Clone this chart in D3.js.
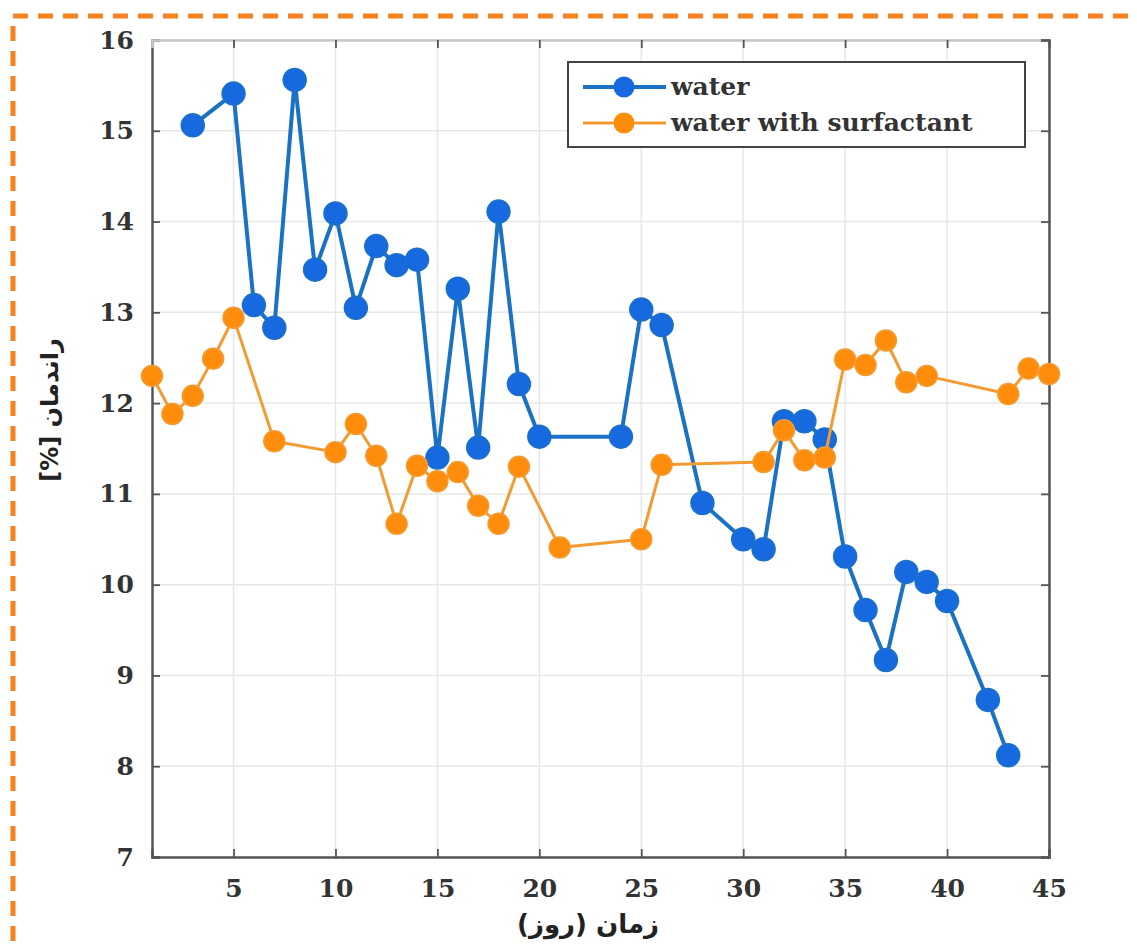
<!DOCTYPE html>
<html><head><meta charset="utf-8">
<script src="https://cdn.jsdelivr.net/npm/d3@7"></script>
<style>html,body{margin:0;padding:0;background:#fff;overflow:hidden}</style>
</head><body>
<svg id="c" width="1137" height="948"></svg>
<script>
const waterDays = [3,5,6,7,8,9,10,11,12,13,14,15,16,17,18,19,20,24,25,26,28,30,31,32,33,34,35,36,37,38,39,40,42,43];
const waterVals = [15.06,15.41,13.08,12.83,15.56,13.47,14.09,13.05,13.73,13.52,13.58,11.40,13.26,11.51,14.11,12.21,11.63,11.63,13.03,12.86,10.90,10.50,10.39,11.80,11.80,11.60,10.31,9.72,9.17,10.14,10.03,9.82,8.73,8.12];
const surfDays = [1,2,3,4,5,7,10,11,12,13,14,15,16,17,18,19,21,25,26,31,32,33,34,35,36,37,38,39,43,44,45];
const surfVals = [12.30,11.88,12.08,12.49,12.94,11.58,11.46,11.77,11.42,10.67,11.31,11.14,11.24,10.87,10.67,11.30,10.41,10.50,11.32,11.35,11.70,11.37,11.40,12.48,12.42,12.69,12.23,12.30,12.10,12.38,12.32];
const xTicks = [5,10,15,20,25,30,35,40,45];
const yTicks = [7,8,9,10,11,12,13,14,15,16];
const seriesNames = ["water","water with surfactant"];
const xLabel = "زمان (روز)";
const yLabel = "راندمان [%]";

const svg = d3.select("#c");
const L = 152, R = 1049, T = 40, B = 857;
const x = d3.scaleLinear().domain([1,45]).range([L,R]);
const y = d3.scaleLinear().domain([7,16]).range([B,T]);

// dashed frame
svg.append("rect").attr("x",13).attr("y",16).attr("width",1300).attr("height",1100)
  .attr("fill","none").attr("stroke","#f5841f").attr("stroke-width",5)
  .attr("stroke-dasharray","15,10");

// grid
const g = svg.append("g");
g.selectAll(".gx").data(xTicks).join("line")
  .attr("x1",d=>x(d)).attr("x2",d=>x(d)).attr("y1",T).attr("y2",B)
  .attr("stroke","#e8e8e8").attr("stroke-width",1.5);
g.selectAll(".gy").data(yTicks).join("line")
  .attr("y1",d=>y(d)).attr("y2",d=>y(d)).attr("x1",L).attr("x2",R)
  .attr("stroke","#e8e8e8").attr("stroke-width",1.5);

// axes
const tickFont = "'DejaVu Serif', serif";
const xAxis = svg.append("g").attr("transform",`translate(0,${B})`)
  .call(d3.axisBottom(x).tickValues(xTicks).tickSize(-8).tickPadding(22).tickFormat(d3.format("d")));
const yAxis = svg.append("g").attr("transform",`translate(${L},0)`)
  .call(d3.axisLeft(y).tickValues(yTicks).tickSize(-8).tickPadding(18).tickFormat(d3.format("d")));
const xTop = svg.append("g").attr("transform",`translate(0,${T})`)
  .call(d3.axisTop(x).tickValues(xTicks).tickSize(-8).tickFormat(""));
const yRight = svg.append("g").attr("transform",`translate(${R},0)`)
  .call(d3.axisRight(y).tickValues(yTicks).tickSize(-8).tickFormat(""));
[xAxis,yAxis,xTop,yRight].forEach(a=>{
  a.select(".domain").attr("stroke","#555").attr("stroke-width",2.5);
  a.selectAll(".tick line").attr("stroke","#555").attr("stroke-width",1.8);
  a.selectAll("text").attr("font-family",tickFont).attr("font-weight","bold")
   .attr("font-size",25).attr("fill","#333");
});
xTop.select(".domain").attr("stroke","#c8c8c8");
xAxis.selectAll(".tick text").attr("dy","0.71em");

// series
const blueLine = "#1b72c4", blueFill = "#1769e0";
const orLine = "#f39b32", orFill = "#ff8c0a";
const line = d3.line().x(d=>x(d[0])).y(d=>y(d[1]));
const wData = waterDays.map((d,i)=>[d,waterVals[i]]);
const sData = surfDays.map((d,i)=>[d,surfVals[i]]);

svg.append("path").datum(wData).attr("d",line).attr("fill","none")
  .attr("stroke",blueLine).attr("stroke-width",4).attr("stroke-linejoin","round");
svg.selectAll(".wm").data(wData).join("circle")
  .attr("cx",d=>x(d[0])).attr("cy",d=>y(d[1])).attr("r",11.5)
  .attr("fill",blueFill).attr("stroke",blueLine).attr("stroke-width",1.5);

svg.append("path").datum(sData).attr("d",line).attr("fill","none")
  .attr("stroke",orLine).attr("stroke-width",3).attr("stroke-linejoin","round");
svg.selectAll(".sm").data(sData).join("circle")
  .attr("cx",d=>x(d[0])).attr("cy",d=>y(d[1])).attr("r",10.5)
  .attr("fill",orFill).attr("stroke",orLine).attr("stroke-width",1.5);

// legend
const lg = svg.append("g");
lg.append("rect").attr("x",568).attr("y",62).attr("width",457).attr("height",85)
  .attr("fill","#fff").attr("stroke","#444").attr("stroke-width",2);
const rows = [{n:seriesNames[0],lc:blueLine,fc:blueFill,w:4,yy:87},{n:seriesNames[1],lc:orLine,fc:orFill,w:3,yy:123}];
rows.forEach(r=>{
  lg.append("line").attr("x1",583).attr("x2",666).attr("y1",r.yy).attr("y2",r.yy)
    .attr("stroke",r.lc).attr("stroke-width",r.w);
  lg.append("circle").attr("cx",624).attr("cy",r.yy).attr("r",10.5).attr("fill",r.fc);
  lg.append("text").attr("x",671).attr("y",r.yy).attr("dy","0.3em")
    .attr("font-family",tickFont).attr("font-weight","bold").attr("font-size",25)
    .attr("fill","#333").text(r.n);
});

// axis labels
svg.append("text").attr("x",588).attr("y",933).attr("text-anchor","middle")
  .attr("direction","rtl")
  .attr("font-family","'DejaVu Sans', sans-serif").attr("font-weight","bold")
  .attr("font-size",26).attr("fill","#222").text(xLabel);
svg.append("text").attr("transform","translate(58,410) rotate(-90)").attr("text-anchor","middle")
  .attr("direction","rtl")
  .attr("font-family","'DejaVu Sans', sans-serif").attr("font-weight","bold")
  .attr("font-size",24).attr("fill","#222").text(yLabel);
</script>
</body></html>
